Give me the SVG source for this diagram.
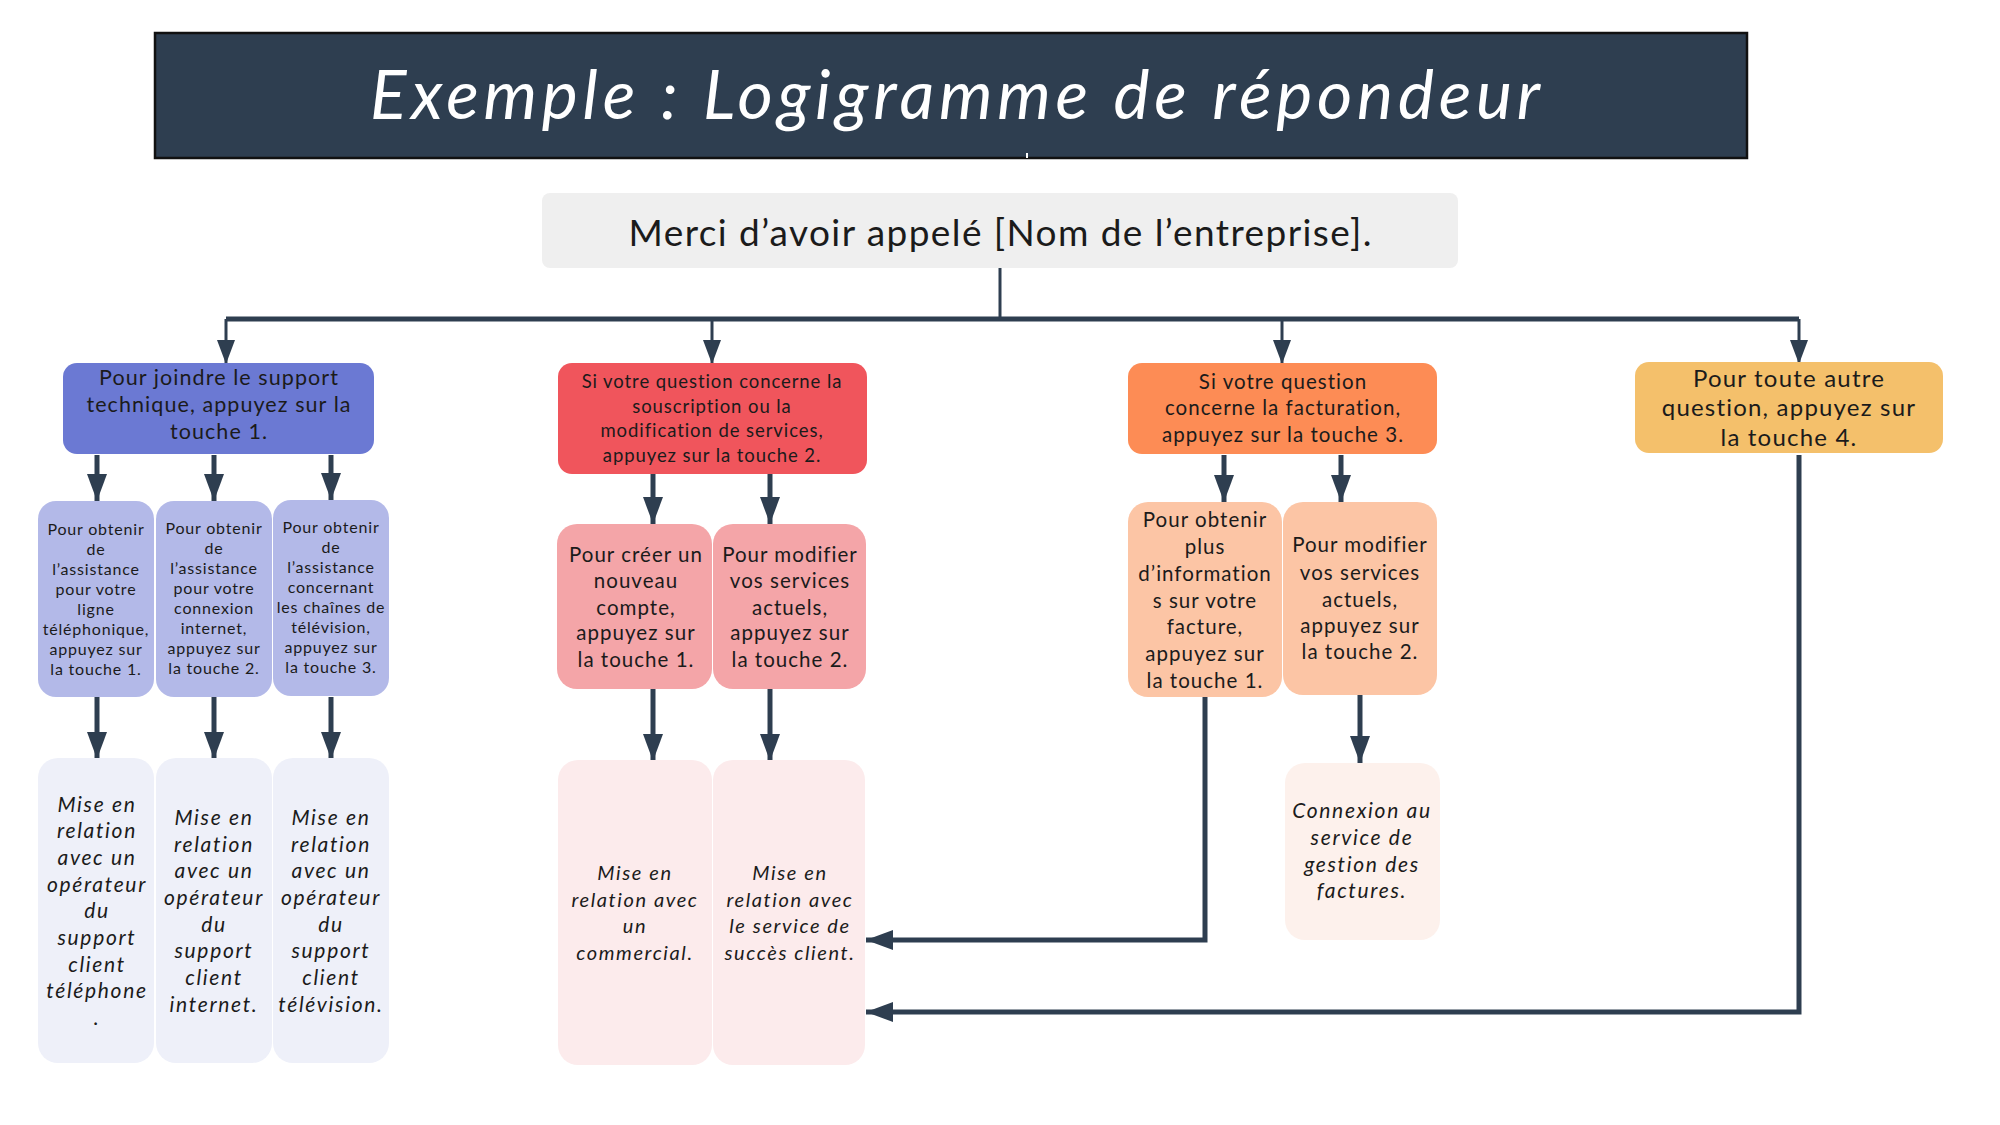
<svg xmlns="http://www.w3.org/2000/svg" width="2000" height="1125" viewBox="0 0 2000 1125">
<defs>
<style>
text{font-family:Lato,"Liberation Sans",sans-serif;fill:#1b1b1b;text-anchor:middle;letter-spacing:0.05em}
.t{fill:#ffffff;font-style:italic;font-size:68px;letter-spacing:0}
.m{font-size:37px;letter-spacing:0}
.l1{font-size:21.5px}
.l1r{font-size:18.5px}
.l1o{font-size:20.5px}
.l1y{font-size:24px}
.s16{font-size:16px}
.s20{font-size:20.5px}
.it{font-style:italic;font-size:21px;letter-spacing:0.08em}
.it20{font-style:italic;font-size:20px;letter-spacing:0.08em}
.c{fill:none;stroke:#2e3e50;stroke-linejoin:miter}
.thin{stroke-width:3}
.thick{stroke-width:5}
</style>
<marker id="ah" viewBox="0 0 27 20" refX="27" refY="10" markerWidth="27" markerHeight="20" markerUnits="userSpaceOnUse" orient="auto">
<path d="M0,0 L27,10 L0,20 Z" fill="#2e3e50"/>
</marker>
<marker id="ahs" viewBox="0 0 24 18" refX="24" refY="9" markerWidth="24" markerHeight="18" markerUnits="userSpaceOnUse" orient="auto">
<path d="M0,0 L24,9 L0,18 Z" fill="#2e3e50"/>
</marker>
</defs>
<rect width="2000" height="1125" fill="#ffffff"/>

<g id="title">
<rect x="155" y="33" width="1592" height="125" fill="#2e3e50" stroke="#111111" stroke-width="2.5"/>
<text class="t" x="955" y="119" textLength="1170" lengthAdjust="spacing">Exemple : Logigramme de répondeur</text>
<rect x="1026" y="153" width="2" height="5" fill="#ffffff"/>
</g>

<g id="connectors">
<path class="c thin" d="M1000,268 V319"/>
<path class="c thick" d="M226,319 H1799"/>
<path class="c thin" d="M226,319 V364" marker-end="url(#ahs)"/>
<path class="c thin" d="M712,319 V364" marker-end="url(#ahs)"/>
<path class="c thin" d="M1282,319 V364" marker-end="url(#ahs)"/>
<path class="c thin" d="M1799,319 V364" marker-end="url(#ahs)"/>

<path class="c thick" d="M97,455 V501" marker-end="url(#ah)"/>
<path class="c thick" d="M214,455 V501" marker-end="url(#ah)"/>
<path class="c thick" d="M331,455 V500" marker-end="url(#ah)"/>
<path class="c thick" d="M97,697 V759" marker-end="url(#ah)"/>
<path class="c thick" d="M214,697 V759" marker-end="url(#ah)"/>
<path class="c thick" d="M331,697 V759" marker-end="url(#ah)"/>

<path class="c thick" d="M653,474 V524" marker-end="url(#ah)"/>
<path class="c thick" d="M770,474 V524" marker-end="url(#ah)"/>
<path class="c thick" d="M653,689 V761" marker-end="url(#ah)"/>
<path class="c thick" d="M770,689 V761" marker-end="url(#ah)"/>

<path class="c thick" d="M1224,455 V502" marker-end="url(#ah)"/>
<path class="c thick" d="M1341,455 V502" marker-end="url(#ah)"/>
<path class="c thick" d="M1205,697 V940 H866" marker-end="url(#ah)"/>
<path class="c thick" d="M1360,695 V763" marker-end="url(#ah)"/>
<path class="c thick" d="M1799,455 V1012 H866" marker-end="url(#ah)"/>
</g>

<g id="n-merci">
<rect x="542" y="193" width="916" height="75" rx="8" fill="#efefef"/>
<text class="m" x="1000" y="246" textLength="743" lengthAdjust="spacing">Merci d’avoir appelé [Nom de l’entreprise].</text>
</g>

<g id="n-support">
<rect x="63" y="363" width="311" height="91" rx="14" fill="#6b79d3"/>
<text class="l1" x="219"><tspan x="219" y="385">Pour joindre le support</tspan><tspan x="219" y="412">technique, appuyez sur la</tspan><tspan x="219" y="439">touche 1.</tspan></text>
</g>

<g id="n-souscription">
<rect x="558" y="363" width="309" height="111" rx="14" fill="#f0555c"/>
<text class="l1r" x="712"><tspan x="712" y="388">Si votre question concerne la</tspan><tspan x="712" y="413">souscription ou la</tspan><tspan x="712" y="437">modification de services,</tspan><tspan x="712" y="462">appuyez sur la touche 2.</tspan></text>
</g>

<g id="n-facturation">
<rect x="1128" y="363" width="309" height="91" rx="14" fill="#fd8c55"/>
<text class="l1o" x="1283"><tspan x="1283" y="389">Si votre question</tspan><tspan x="1283" y="415">concerne la facturation,</tspan><tspan x="1283" y="442">appuyez sur la touche 3.</tspan></text>
</g>

<g id="n-autre">
<rect x="1635" y="362" width="308" height="91" rx="14" fill="#f4c06b"/>
<text class="l1y" x="1789"><tspan x="1789" y="387">Pour toute autre</tspan><tspan x="1789" y="416">question, appuyez sur</tspan><tspan x="1789" y="446">la touche 4.</tspan></text>
</g>

<g id="n-ligne">
<rect x="38" y="501" width="116" height="196" rx="18" fill="#b3b9e8"/>
<text class="s16" x="96"><tspan x="96" y="535">Pour obtenir</tspan><tspan x="96" y="555">de</tspan><tspan x="96" y="575">l’assistance</tspan><tspan x="96" y="595">pour votre</tspan><tspan x="96" y="615">ligne</tspan><tspan x="96" y="635">téléphonique,</tspan><tspan x="96" y="655">appuyez sur</tspan><tspan x="96" y="675">la touche 1.</tspan></text>
</g>
<g id="n-internet">
<rect x="156" y="501" width="116" height="196" rx="18" fill="#b3b9e8"/>
<text class="s16" x="214"><tspan x="214" y="534">Pour obtenir</tspan><tspan x="214" y="554">de</tspan><tspan x="214" y="574">l’assistance</tspan><tspan x="214" y="594">pour votre</tspan><tspan x="214" y="614">connexion</tspan><tspan x="214" y="634">internet,</tspan><tspan x="214" y="654">appuyez sur</tspan><tspan x="214" y="674">la touche 2.</tspan></text>
</g>
<g id="n-television">
<rect x="273" y="500" width="116" height="196" rx="18" fill="#b3b9e8"/>
<text class="s16" x="331"><tspan x="331" y="533">Pour obtenir</tspan><tspan x="331" y="553">de</tspan><tspan x="331" y="573">l’assistance</tspan><tspan x="331" y="593">concernant</tspan><tspan x="331" y="613">les chaînes de</tspan><tspan x="331" y="633">télévision,</tspan><tspan x="331" y="653">appuyez sur</tspan><tspan x="331" y="673">la touche 3.</tspan></text>
</g>

<g id="n-op-tel">
<rect x="38" y="758" width="116" height="305" rx="20" fill="#eef0f9"/>
<text class="it" x="97"><tspan x="97" y="812">Mise en</tspan><tspan x="97" y="838">relation</tspan><tspan x="97" y="865">avec un</tspan><tspan x="97" y="892">opérateur</tspan><tspan x="97" y="918">du</tspan><tspan x="97" y="945">support</tspan><tspan x="97" y="972">client</tspan><tspan x="97" y="998">téléphone</tspan><tspan x="97" y="1025">.</tspan></text>
</g>
<g id="n-op-net">
<rect x="156" y="758" width="116" height="305" rx="20" fill="#eef0f9"/>
<text class="it" x="214"><tspan x="214" y="825">Mise en</tspan><tspan x="214" y="852">relation</tspan><tspan x="214" y="878">avec un</tspan><tspan x="214" y="905">opérateur</tspan><tspan x="214" y="932">du</tspan><tspan x="214" y="958">support</tspan><tspan x="214" y="985">client</tspan><tspan x="214" y="1012">internet.</tspan></text>
</g>
<g id="n-op-tv">
<rect x="273" y="758" width="116" height="305" rx="20" fill="#eef0f9"/>
<text class="it" x="331"><tspan x="331" y="825">Mise en</tspan><tspan x="331" y="852">relation</tspan><tspan x="331" y="878">avec un</tspan><tspan x="331" y="905">opérateur</tspan><tspan x="331" y="932">du</tspan><tspan x="331" y="958">support</tspan><tspan x="331" y="985">client</tspan><tspan x="331" y="1012">télévision.</tspan></text>
</g>

<g id="n-creer">
<rect x="557" y="524" width="155" height="165" rx="20" fill="#f4a5a8"/>
<text class="s20" x="636"><tspan x="636" y="562">Pour créer un</tspan><tspan x="636" y="588">nouveau</tspan><tspan x="636" y="615">compte,</tspan><tspan x="636" y="640">appuyez sur</tspan><tspan x="636" y="667">la touche 1.</tspan></text>
</g>
<g id="n-modifier">
<rect x="713" y="524" width="153" height="165" rx="20" fill="#f4a5a8"/>
<text class="s20" x="790"><tspan x="790" y="562">Pour modifier</tspan><tspan x="790" y="588">vos services</tspan><tspan x="790" y="615">actuels,</tspan><tspan x="790" y="640">appuyez sur</tspan><tspan x="790" y="667">la touche 2.</tspan></text>
</g>

<g id="n-commercial">
<rect x="558" y="760" width="154" height="305" rx="20" fill="#fcebec"/>
<text class="it20" x="635"><tspan x="635" y="880">Mise en</tspan><tspan x="635" y="907">relation avec</tspan><tspan x="635" y="933">un</tspan><tspan x="635" y="960">commercial.</tspan></text>
</g>
<g id="n-succes">
<rect x="713" y="760" width="152" height="305" rx="20" fill="#fcebec"/>
<text class="it20" x="790"><tspan x="790" y="880">Mise en</tspan><tspan x="790" y="907">relation avec</tspan><tspan x="790" y="933">le service de</tspan><tspan x="790" y="960">succès client.</tspan></text>
</g>

<g id="n-info-facture">
<rect x="1128" y="502" width="154" height="195" rx="20" fill="#fcc5a5"/>
<text class="s20" x="1205"><tspan x="1205" y="527">Pour obtenir</tspan><tspan x="1205" y="554">plus</tspan><tspan x="1205" y="581">d’information</tspan><tspan x="1205" y="608">s sur votre</tspan><tspan x="1205" y="634">facture,</tspan><tspan x="1205" y="661">appuyez sur</tspan><tspan x="1205" y="688">la touche 1.</tspan></text>
</g>
<g id="n-modifier-fact">
<rect x="1283" y="502" width="154" height="193" rx="20" fill="#fcc5a5"/>
<text class="s20" x="1360"><tspan x="1360" y="552">Pour modifier</tspan><tspan x="1360" y="580">vos services</tspan><tspan x="1360" y="607">actuels,</tspan><tspan x="1360" y="633">appuyez sur</tspan><tspan x="1360" y="659">la touche 2.</tspan></text>
</g>

<g id="n-gestion">
<rect x="1285" y="763" width="155" height="177" rx="20" fill="#fdf1ec"/>
<text class="it" x="1362"><tspan x="1362" y="818">Connexion au</tspan><tspan x="1362" y="845">service de</tspan><tspan x="1362" y="872">gestion des</tspan><tspan x="1362" y="898">factures.</tspan></text>
</g>
</svg>
